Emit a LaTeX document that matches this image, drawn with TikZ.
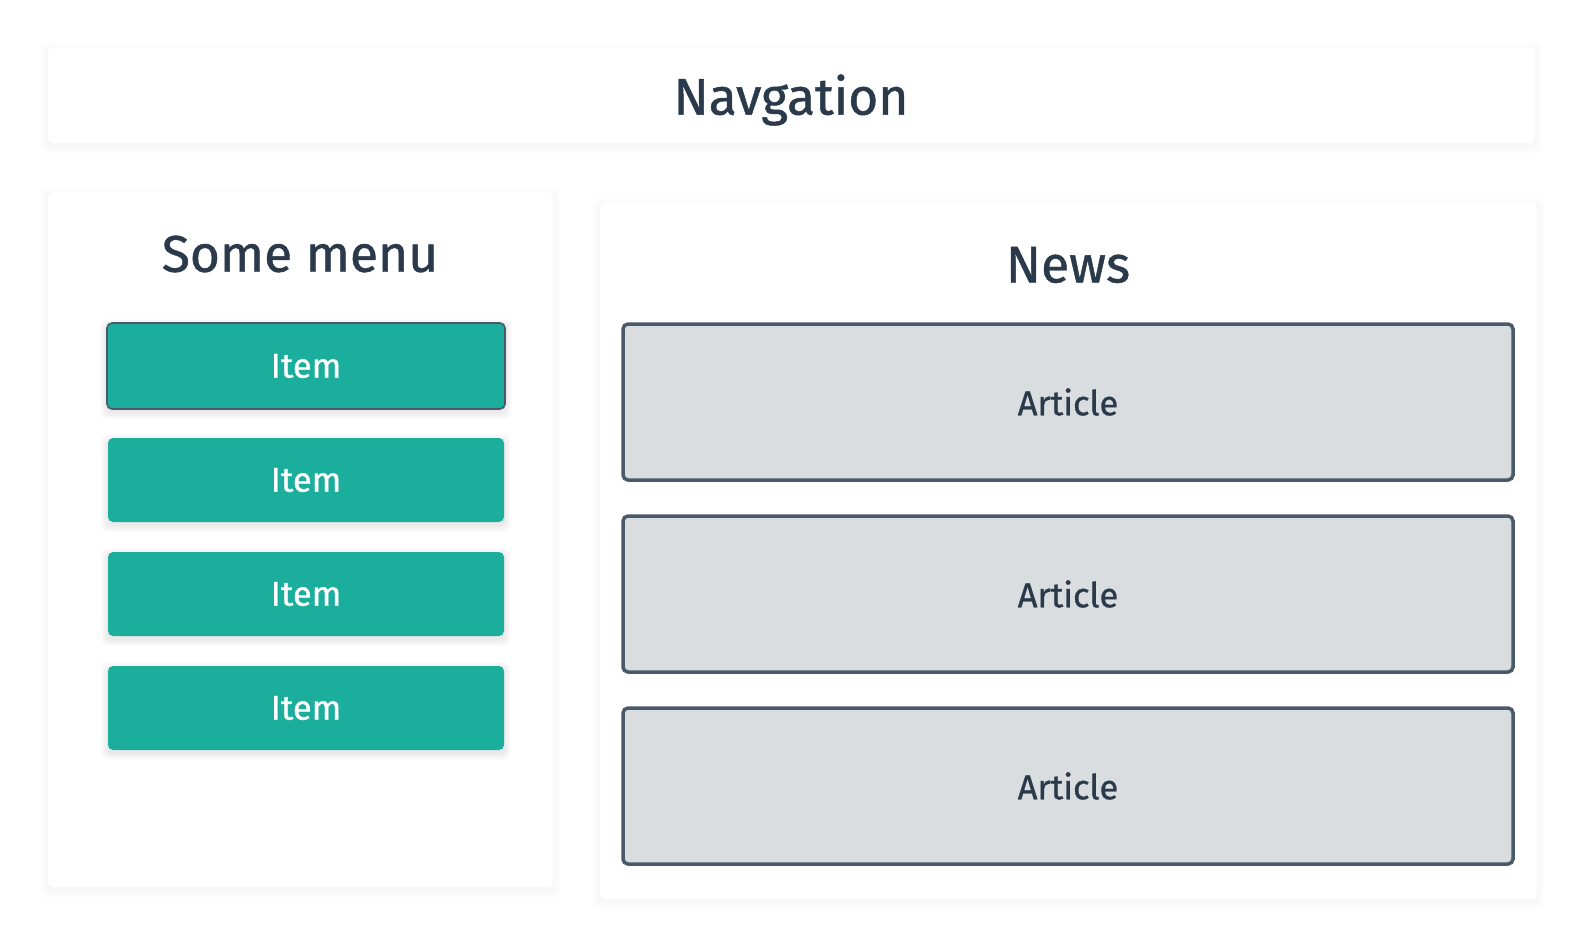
\documentclass[tikz,border=0pt]{standalone}
\usepackage{fontspec}
\setmainfont{Fira Sans}[FakeBold=1.2]
\newfontfamily\uifont{Fira Sans}[FakeBold=0.9]
\definecolor{inkdark}{HTML}{2B3A4A}
\definecolor{teal}{HTML}{1BAE9D}
\definecolor{slateedge}{HTML}{4A5A6A}
\definecolor{articlefill}{HTML}{D9DDE0}
% soft drop shade: stacked translucent rounded boxes, each a little wider
\newcommand{\dropshade}[6]{%
  \foreach \k in {1,...,#6}{%
    \fill[black, opacity=#5, rounded corners=6pt]
      (#1-\k,#2-\k+3) rectangle (#3+\k,#4+\k+3);}}
\begin{document}
\begin{tikzpicture}[x=1pt,y=-1pt,
  panel/.style={fill=white, rounded corners=6pt},
  menuitem/.style={fill=teal, rounded corners=5pt, text=white, font=\uifont\fontsize{34.5}{40}\selectfont},
  article/.style={fill=articlefill, draw=slateedge, line width=3.5pt, rounded corners=5pt,
    text=inkdark, font=\uifont\fontsize{34.5}{40}\selectfont},
  heading/.style={text=inkdark, font=\uifont\fontsize{51.5}{60}\selectfont}]
\useasboundingbox[fill=white] (0,0) rectangle (1584,948);

% panels with faint shades
\dropshade{48}{47}{1535}{143}{0.004}{8}
\dropshade{48}{192}{553}{887}{0.004}{8}
\dropshade{600}{203}{1537}{899}{0.004}{8}
\path[panel] (48,47) rectangle (1535,143);
\path[panel] (48,192) rectangle (553,887);
\path[panel] (600,203) rectangle (1537,899);

% headings
\node[heading] (nav) at (791,100) {Navgation};
\node[heading] (menu) at (300,254) {Some menu};
\node[heading] (news) at (1068,265) {News};

% menu items
\dropshade{107}{323}{505}{409}{0.012}{7}
\dropshade{108}{438}{504}{522}{0.012}{7}
\dropshade{108}{552}{504}{636}{0.012}{7}
\dropshade{108}{666}{504}{750}{0.012}{7}
\draw[menuitem, draw=slateedge, line width=1.6pt] (107,323) rectangle (505,409) node[midway] (item1) {Item};
\path[menuitem] (108,438) rectangle (504,522) node[midway] (item2) {Item};
\path[menuitem] (108,552) rectangle (504,636) node[midway] (item3) {Item};
\path[menuitem] (108,666) rectangle (504,750) node[midway] (item4) {Item};

% articles
\draw[article] (623,324) rectangle (1513,480) node[midway] (art1) {Article};
\draw[article] (623,516) rectangle (1513,672) node[midway] (art2) {Article};
\draw[article] (623,708) rectangle (1513,864) node[midway] (art3) {Article};
\end{tikzpicture}
\end{document}
